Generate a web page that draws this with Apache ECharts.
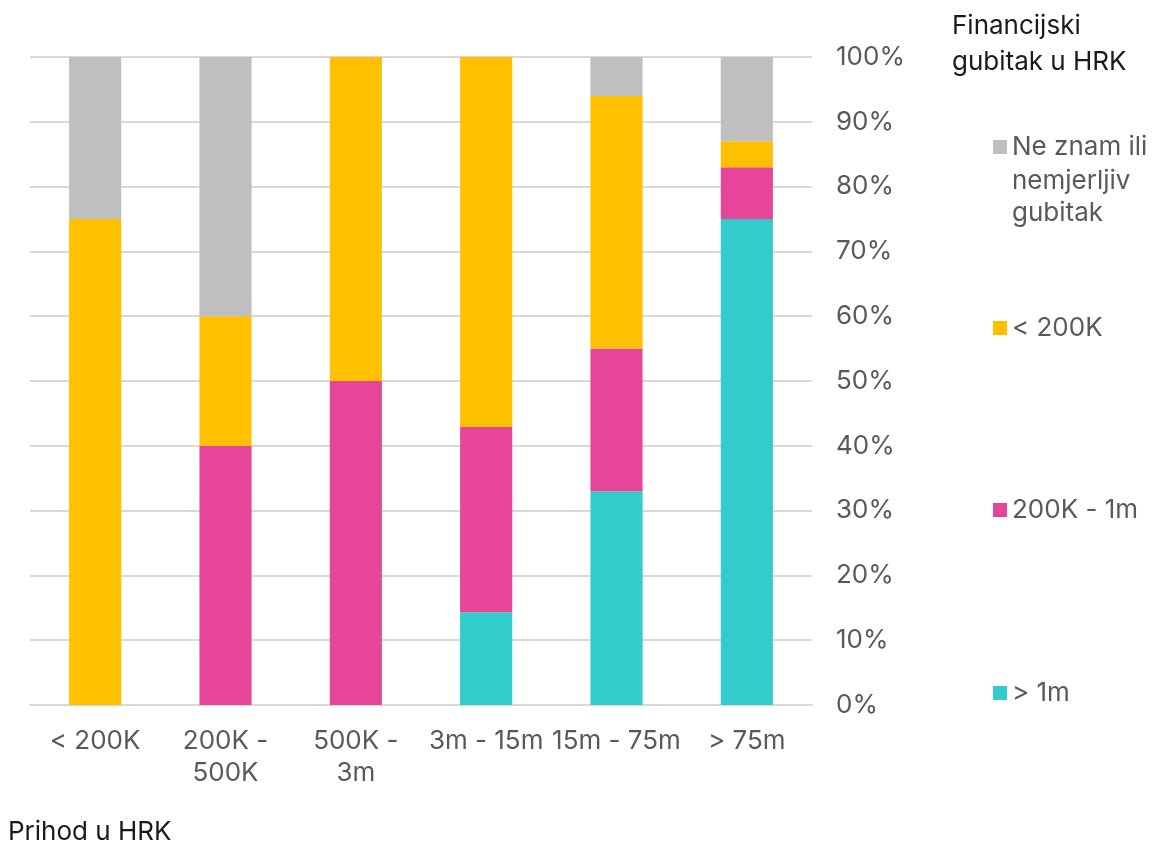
<!DOCTYPE html>
<html>
<head>
<meta charset="utf-8">
<script src="https://cdn.jsdelivr.net/npm/echarts@6/dist/echarts.min.js"></script>
<style>
  html, body { margin: 0; padding: 0; background: #fff; }
  #chart { width: 1154px; height: 847px; }
</style>
</head>
<body>
<div id="chart"></div>
<script>
// Revenue bands (x axis), with line breaks where the labels wrap
const categories = ['< 200K', '200K -\n500K', '500K -\n3m', '3m - 15m', '15m - 75m', '> 75m'];

// Share of respondents (%) per financial-loss band
const over1m       = [0, 0, 0, 14.3, 33, 75];
const from200kTo1m = [0, 40, 50, 28.6, 22, 8];
const under200k    = [75, 20, 50, 57.1, 39, 4];
const unknownLoss  = [25, 40, 0, 0, 6, 13];

const seriesNames = ['> 1m', '200K - 1m', '< 200K', 'Ne znam ili nemjerljiv gubitak'];
const colors = ['#33CCCC', '#E6459A', '#FFC000', '#BFBFBF'];

const FONT = 'Inter';
const FS = 26;
const labelColor = '#595959';
const titleColor = '#1a1a1a';

const chart = echarts.init(document.getElementById('chart'), null, { renderer: 'canvas' });

function legendItem(name, top, formatter) {
  const item = {
    show: true,
    data: [name],
    left: 993,
    top: top,
    orient: 'vertical',
    icon: 'rect',
    itemWidth: 14,
    itemHeight: 14,
    itemGap: 0,
    padding: 0,
    selectedMode: false,
    textStyle: { fontFamily: FONT, fontSize: FS, color: labelColor }
  };
  if (formatter) item.formatter = formatter;
  return item;
}

const option = {
  backgroundColor: '#fff',
  animation: false,
  title: [
    {
      text: 'Financijski\ngubitak u HRK',
      left: 952, top: 8, padding: 0,
      textStyle: { fontFamily: FONT, fontSize: FS, fontWeight: 'normal', color: titleColor, lineHeight: 36 }
    },
    {
      text: 'Prihod u HRK',
      left: 8, top: 819, padding: 0,
      textStyle: { fontFamily: FONT, fontSize: FS, fontWeight: 'normal', color: titleColor }
    }
  ],
  legend: [
    // the swatch sits beside the first line; the rest of the name wraps below it
    legendItem(seriesNames[3], 134, function () { return 'Ne znam ili'; }),
    legendItem(seriesNames[2], 315),
    legendItem(seriesNames[1], 497),
    legendItem(seriesNames[0], 680)
  ],
  graphic: [
    {
      type: 'text',
      left: 1012,
      top: 165,
      silent: true,
      style: {
        text: 'nemjerljiv\ngubitak',
        fontFamily: FONT, fontSize: FS, fill: labelColor, lineHeight: 32
      }
    }
  ],
  grid: { left: 30, right: 342, top: 57, bottom: 142, containLabel: false },
  xAxis: {
    type: 'category',
    data: categories,
    axisLine: { show: true, lineStyle: { color: '#D9D9D9', width: 2 } },
    axisTick: { show: false },
    axisLabel: {
      fontFamily: FONT, fontSize: FS, color: labelColor,
      margin: 20, lineHeight: 32, interval: 0
    }
  },
  yAxis: {
    type: 'value',
    position: 'right',
    min: 0, max: 100, interval: 10,
    axisLine: { show: false },
    axisTick: { show: false },
    splitLine: { lineStyle: { color: '#D9D9D9', width: 2 } },
    axisLabel: {
      fontFamily: FONT, fontSize: FS, color: labelColor,
      margin: 24, align: 'left',
      formatter: '{value}%'
    }
  },
  series: [over1m, from200kTo1m, under200k, unknownLoss].map(function (vals, i) {
    return {
      name: seriesNames[i],
      type: 'bar',
      stack: 'total',
      data: vals,
      barWidth: '40%',
      itemStyle: { color: colors[i] },
      emphasis: { disabled: true }
    };
  })
};

chart.setOption(option);
</script>
</body>
</html>
